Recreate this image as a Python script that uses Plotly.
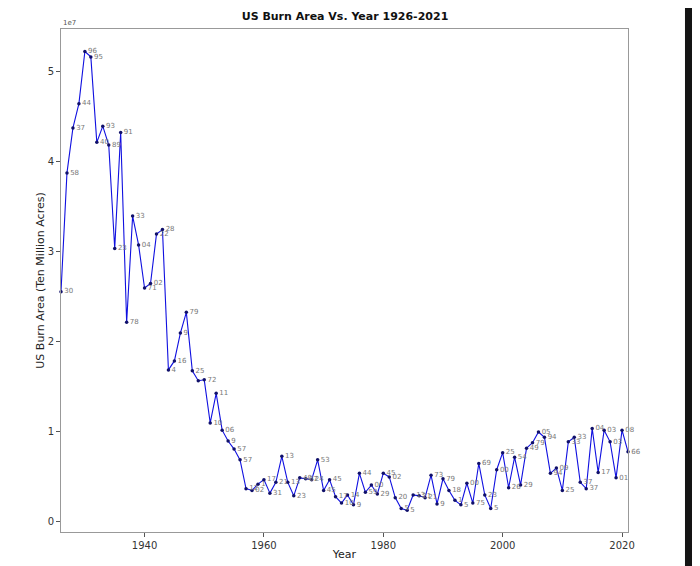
import plotly.graph_objects as go

# data (acres)
years = list(range(1926, 2022))
burn_area = [
    2.55, 3.87, 4.37, 4.64, 5.22, 5.16, 4.21, 4.39, 4.18, 3.03,
    4.32, 2.21, 3.39, 3.07, 2.59, 2.64, 3.19, 3.24, 1.68, 1.78,
    2.09, 2.32, 1.67, 1.56, 1.57, 1.09, 1.42, 1.01, 0.89, 0.80,
    0.68, 0.36, 0.34, 0.41, 0.46, 0.31, 0.43, 0.72, 0.43, 0.28,
    0.48, 0.47, 0.46, 0.68, 0.34, 0.46, 0.27, 0.20, 0.29, 0.18,
    0.53, 0.32, 0.40, 0.30, 0.53, 0.49, 0.26, 0.14, 0.12, 0.29,
    0.28, 0.26, 0.51, 0.19, 0.47, 0.34, 0.23, 0.18, 0.42, 0.20,
    0.64, 0.29, 0.14, 0.57, 0.76, 0.37, 0.71, 0.40, 0.81, 0.87,
    0.99, 0.93, 0.53, 0.59, 0.34, 0.88, 0.93, 0.43, 0.36, 1.03,
    0.54, 1.01, 0.88, 0.48, 1.01, 0.77,
]
burn_area = [v * 1e7 for v in burn_area]
point_labels = [
    "30", "58", "37", "44", "96", "95", "40", "93", "89", "23",
    "91", "78", "33", "04", "71", "02", "22", "28", "4", "16",
    "9", "79", "25", "", "72", "10", "11", "06", "9", "57",
    "57", "12", "02", "1", "17", "31", "21", "13", "13", "23",
    "40", "07", "24", "53", "45", "45", "17", "10", "14", "9",
    "44", "59", "00", "29", "45", "02", "20", "5", "5", "13",
    "21", "21", "73", "9", "79", "18", "1", "5", "00", "75",
    "69", "23", "5", "00", "25", "26", "54", "29", "49", "79",
    "05", "94", "94", "09", "25", "33", "33", "37", "37", "04",
    "17", "03", "03", "01", "08", "66",
]
y_ticks = [0, 1e7, 2e7, 3e7, 4e7, 5e7]
y_tick_text = ["0", "1", "2", "3", "4", "5"]
x_ticks = [1940, 1960, 1980, 2000, 2020]

fig = go.Figure()
fig.add_trace(go.Scatter(
    x=years, y=burn_area, text=point_labels,
    mode="lines+markers+text", textposition="middle right",
    textfont=dict(size=7, color="#777777"),
    line=dict(color="#1010e0", width=1.1),
    marker=dict(color="#10106a", size=3.5),
    cliponaxis=False, showlegend=False,
))

axis_style = dict(
    showgrid=False, zeroline=False, showline=True, linecolor="#999999",
    linewidth=1, mirror=True, ticks="outside", ticklen=4, tickcolor="#555555",
    tickfont=dict(size=10, color="#333333"), automargin=False,
)
fig.update_xaxes(range=[1926, 2021], tickvals=x_ticks,
                 title=dict(text="Year", font=dict(size=11, color="#222222"), standoff=0),
                 **axis_style)
fig.update_yaxes(range=[-0.122e7, 5.47e7], tickvals=y_ticks, ticktext=y_tick_text,
                 title=dict(text="US Burn Area (Ten Million Acres)",
                            font=dict(size=11, color="#222222"), standoff=0),
                 **axis_style)

fig.add_annotation(text="1e7", xref="paper", yref="paper", x=0, y=1, xanchor="left",
                   yanchor="bottom", showarrow=False, font=dict(size=7, color="#555555"))
# dark strip at the right edge of the screenshot
fig.add_shape(type="rect", xref="paper", yref="paper", x0=1.1005, x1=1.13, y0=-0.1,
              y1=1.06, fillcolor="#141414", line=dict(width=0), layer="above")

fig.update_layout(
    width=692, height=558,
    margin=dict(l=53, r=72, t=21, b=34),
    title=dict(text="<b>US Burn Area Vs. Year 1926-2021</b>", x=0.487, xanchor="center",
               y=0.986, yanchor="middle", font=dict(size=11, color="#111111")),
    font=dict(family="DejaVu Sans"),
    plot_bgcolor="white", paper_bgcolor="white",
)

fig.write_html("out.html")
